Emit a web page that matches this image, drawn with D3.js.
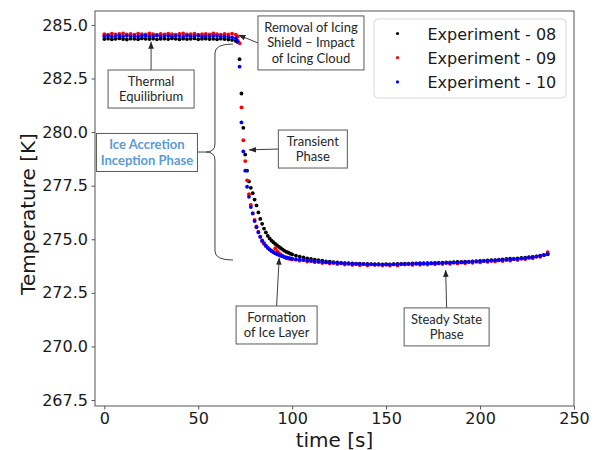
<html>
<head>
<meta charset="utf-8">
<style>
  body { margin: 0; background: #fff; }
  .tick text { font-family: "DejaVu Sans", sans-serif; font-size: 16px; fill: #1a1a1a; }
  .tick line { stroke: #555; }
  .note { font-family: Lato, "Open Sans", sans-serif; font-size: 13px; fill: #262626; }
  .note-blue { font-family: Lato, "Open Sans", sans-serif; font-size: 13px; font-weight: bold; fill: #5b9bd5; }
  .box { fill: #fff; stroke: #595959; stroke-width: 1; }
  .leader { stroke: #404040; stroke-width: 1; fill: none; }
</style>
</head>
<body>
<script src="https://cdn.jsdelivr.net/npm/d3@7"></script>
<script>
// sample times [s]
var times = [0,2,4,6,8,10,12,14,16,18,20,22,24,26,28,30,32,34,36,38,40,42,44,46,48,50,52,54,56,58,60,62,64,66,68,70,
  71,72,73,74,75,76,77,78,79,80,81,82,83,84,85,86,87,88,89,90,91,92,93,94,95,96,97,98,99,100,
  102,104,106,108,110,112,114,116,118,120,122,124,126,128,130,132,134,136,138,140,142,144,146,148,150,152,154,156,158,160,
  162,164,166,168,170,172,174,176,178,180,182,184,186,188,190,192,194,196,198,200,202,204,206,208,210,212,214,216,218,220,
  222,224,226,228,230,232,234,236];

// Experiment - 08 (black)
var exp08 = [284.34,284.36,284.33,284.35,284.37,284.34, 284.32,284.36,284.35,284.33,284.37,284.35,
  284.34,284.36,284.33,284.35,284.36,284.34, 284.37,284.35,284.33,284.36,284.34,284.35,
  284.37,284.33,284.35,284.36,284.34,284.35, 284.33,284.36,284.34,284.32,284.30,284.25,
  284.20,283.40,281.80,280.20,278.95,278.20,277.70,277.40,277.15,276.85,
  276.58,276.25,275.95,275.72,275.50,275.32,275.16,275.04,274.94,274.86,
  274.78,274.71,274.64,274.58,274.52,274.46,274.41,274.37,274.33,274.29,
  274.24,274.19,274.15,274.11,274.08,274.05, 274.02,274.00,273.97,273.95,273.93,273.92,
  273.90,273.89,273.88,273.87,273.86,273.86, 273.85,273.85,273.84,273.84,273.84,273.83,
  273.84,273.83,273.84,273.85,273.85,273.86, 273.86,273.87,273.87,273.88,273.88,273.89,
  273.89,273.90,273.90,273.91,273.92,273.92, 273.93,273.94,273.94,273.95,273.96,273.97,
  273.98,273.99,274.00,274.01,274.02,274.03, 274.05,274.06,274.08,274.09,274.10,274.11,
  274.13,274.14,274.16,274.18,274.20,274.23, 274.27,274.30];

// Experiment - 09 (red)
var exp09 = [284.57,284.55,284.59,284.56,284.58,284.60, 284.56,284.58,284.55,284.59,284.57,284.56,
  284.60,284.57,284.55,284.58,284.56,284.59, 284.57,284.55,284.58,284.60,284.56,284.57,
  284.59,284.55,284.57,284.58,284.56,284.60, 284.57,284.55,284.58,284.56,284.59,284.55,
  284.45,284.15,281.15,279.62,278.65,277.75,277.10,276.60,276.22,275.90,
  275.60,275.35,275.10,274.90,274.78,274.68,274.60,274.53,274.47,274.42,
  274.58,274.45,274.35,274.28,274.22,274.16,274.11,274.10,274.08,274.06,
  274.04,274.00,274.03,273.96,273.99,273.93, 273.95,273.89,273.92,273.87,273.90,273.84,
  273.88,273.82,273.86,273.80,273.85,273.79, 273.84,273.78,273.83,273.80,273.82,273.77,
  273.82,273.77,273.83,273.78,273.84,273.82, 273.85,273.80,273.86,273.81,273.86,273.82,
  273.87,273.83,273.88,273.84,273.90,273.85, 273.91,273.87,273.92,273.88,273.94,273.90,
  273.96,273.92,273.98,273.94,274.00,273.96, 274.02,273.98,274.04,274.00,274.07,274.03,
  274.10,274.07,274.14,274.11,274.19,274.18, 274.26,274.40];

// Experiment - 10 (blue)
var exp10 = [284.47,284.49,284.46,284.48,284.50,284.47, 284.49,284.47,284.48,284.46,284.49,284.50,
  284.47,284.48,284.50,284.46,284.48,284.49, 284.47,284.49,284.48,284.46,284.50,284.47,
  284.48,284.49,284.46,284.48,284.47,284.49, 284.48,284.46,284.47,284.45,284.42,284.38,
  284.25,283.05,280.45,279.10,278.20,277.45,276.98,276.50,276.20,275.85,
  275.56,275.32,275.12,274.95,274.82,274.70,274.60,274.52,274.45,274.39,
  274.34,274.30,274.26,274.23,274.20,274.17,274.15,274.13,274.11,274.09,
  274.07,274.05,274.03,274.01,273.99,273.97, 273.95,273.94,273.92,273.91,273.90,273.89,
  273.88,273.87,273.86,273.85,273.85,273.84, 273.84,273.83,273.83,273.82,273.82,273.82,
  273.82,273.82,273.83,273.83,273.84,273.84, 273.85,273.85,273.86,273.86,273.86,273.87,
  273.87,273.88,273.88,273.89,273.90,273.90, 273.91,273.92,273.92,273.93,273.94,273.95,
  273.96,273.97,273.98,273.99,274.00,274.01, 274.02,274.03,274.04,274.05,274.07,274.08,
  274.10,274.12,274.14,274.16,274.19,274.22, 274.26,274.32];

var seriesNames = ["Experiment - 08", "Experiment - 09", "Experiment - 10"];
var seriesColors = ["#000000", "#ff0000", "#0000ff"];
var xTicks = [0, 50, 100, 150, 200, 250];
var yTicks = [267.5, 270.0, 272.5, 275.0, 277.5, 280.0, 282.5, 285.0];

var svg = d3.select("body").append("svg").attr("width", 600).attr("height", 450);

var x = d3.scaleLinear().domain([-4.95, 250]).range([95, 574]);
var y = d3.scaleLinear().domain([267.22, 285.65]).range([406, 11]);

// axes
var gx = svg.append("g").attr("transform", "translate(0,406)")
  .call(d3.axisBottom(x).tickValues(xTicks).tickSize(3.5).tickPadding(3.5));
var gy = svg.append("g").attr("transform", "translate(95,0)")
  .call(d3.axisLeft(y).tickValues(yTicks).tickFormat(d3.format(".1f")).tickSize(3.5).tickPadding(3.5));
gx.select(".domain").remove();
gy.select(".domain").remove();

svg.append("rect").attr("x", 95).attr("y", 11).attr("width", 479).attr("height", 395)
  .attr("fill", "none").attr("stroke", "#555");

svg.append("text").attr("x", 334.5).attr("y", 446.5).attr("text-anchor", "middle")
  .style("font-family", "DejaVu Sans").style("font-size", "20px").attr("fill", "#1a1a1a")
  .text("time [s]");
svg.append("text").attr("transform", "translate(35,214) rotate(-90)").attr("text-anchor", "middle")
  .style("font-family", "DejaVu Sans").style("font-size", "20px").attr("fill", "#1a1a1a")
  .text("Temperature [K]");

// scatter points
[exp08, exp09, exp10].forEach(function(vals, i) {
  svg.append("g").selectAll("circle")
    .data(vals.map(function(v, j) { return {t: times[j], v: v}; }))
    .enter().append("circle")
    .attr("cx", function(d) { return x(d.t); })
    .attr("cy", function(d) { return y(d.v); })
    .attr("r", 1.9)
    .attr("fill", seriesColors[i]);
});

// arrow marker
svg.append("defs").append("marker")
  .attr("id", "arr").attr("viewBox", "0 0 10 10").attr("refX", 10).attr("refY", 5)
  .attr("markerWidth", 7).attr("markerHeight", 7).attr("markerUnits", "userSpaceOnUse")
  .attr("orient", "auto")
  .append("path").attr("d", "M0,1 L10,5 L0,9 Z").attr("fill", "#262626");

// annotations: box centre (t, T), size, arrow start side, arrow tip (t, T)
var notes = [
  {lines: ["Thermal", "Equilibrium"], t: 24.9, T: 282.01, w: 86, h: 38, from: "top", tipT: 24.9, tipV: 284.22},
  {lines: ["Removal of Icing", "Shield \u2013 Impact", "of Icing Cloud"], t: 110, T: 284.16, w: 106, h: 54, from: "left", tipT: 71.4, tipV: 284.53},
  {lines: ["Transient", "Phase"], t: 111, T: 279.21, w: 69, h: 38, from: "left", tipT: 77, tipV: 279.17},
  {lines: ["Formation", "of Ice Layer"], t: 91.7, T: 271.0, w: 81, h: 38, from: "top", tipT: 93.1, tipV: 274.14},
  {lines: ["Steady State", "Phase"], t: 182.2, T: 270.91, w: 85, h: 38, from: "top", tipT: 181.7, tipV: 273.57}
];

notes.forEach(function(n) {
  var cx = x(n.t), cy = y(n.T);
  var sx = n.from === "top" ? cx : cx - n.w / 2;
  var sy = n.from === "top" ? cy - n.h / 2 : cy;
  svg.append("line").attr("class", "leader")
    .attr("x1", sx).attr("y1", sy).attr("x2", x(n.tipT)).attr("y2", y(n.tipV))
    .attr("marker-end", "url(#arr)");
  svg.append("rect").attr("class", "box")
    .attr("x", cx - n.w / 2).attr("y", cy - n.h / 2).attr("width", n.w).attr("height", n.h);
  var lh = 15.5;
  n.lines.forEach(function(s, k) {
    svg.append("text").attr("class", "note").attr("text-anchor", "middle")
      .attr("x", cx).attr("y", cy + (k - (n.lines.length - 1) / 2) * lh + 4.5)
      .text(s);
  });
});

// Ice accretion inception phase: box with brace
var braceT = 58.9, braceEnd = 68.5, braceTop = 284.11, braceBot = 274.03, braceMid = 279.07;
var bx = x(braceT), bx2 = x(braceEnd), bt = y(braceTop), bb = y(braceBot), bm = y(braceMid);
svg.append("path").attr("class", "leader").attr("stroke", "#595959")
  .attr("d", "M" + bx2 + "," + bt + " Q" + bx + "," + bt + " " + bx + "," + (bt + 9) +
    " L" + bx + "," + (bm - 8) + " Q" + bx + "," + bm + " " + (bx - 9) + "," + bm +
    " Q" + bx + "," + bm + " " + bx + "," + (bm + 8) +
    " L" + bx + "," + (bb - 9) + " Q" + bx + "," + bb + " " + bx2 + "," + bb);
var iceCx = x(22.7), iceCy = y(279.05);
svg.append("line").attr("class", "leader").attr("stroke", "#595959")
  .attr("x1", iceCx + 50.5).attr("y1", bm).attr("x2", bx - 9).attr("y2", bm);
svg.append("rect").attr("class", "box")
  .attr("x", iceCx - 50.5).attr("y", iceCy - 19).attr("width", 101).attr("height", 38);
["Ice Accretion", "Inception Phase"].forEach(function(s, k) {
  svg.append("text").attr("class", "note-blue").attr("text-anchor", "middle")
    .attr("x", iceCx).attr("y", iceCy + (k - 0.5) * 16 + 4.5).text(s);
});

// legend
var lg = svg.append("g").attr("transform", "translate(374,19)");
lg.append("rect").attr("width", 192).attr("height", 79).attr("rx", 4)
  .attr("fill", "#fff").attr("stroke", "#d9d9d9");
seriesNames.forEach(function(name, i) {
  var yy = 14.5 + i * 24.2;
  lg.append("circle").attr("cx", 23.5).attr("cy", yy).attr("r", 1.6).attr("fill", seriesColors[i]);
  lg.append("text").attr("x", 53.5).attr("y", yy + 6)
    .style("font-family", "DejaVu Sans").style("font-size", "16px").attr("fill", "#1a1a1a")
    .text(name);
});
</script>
</body>
</html>
